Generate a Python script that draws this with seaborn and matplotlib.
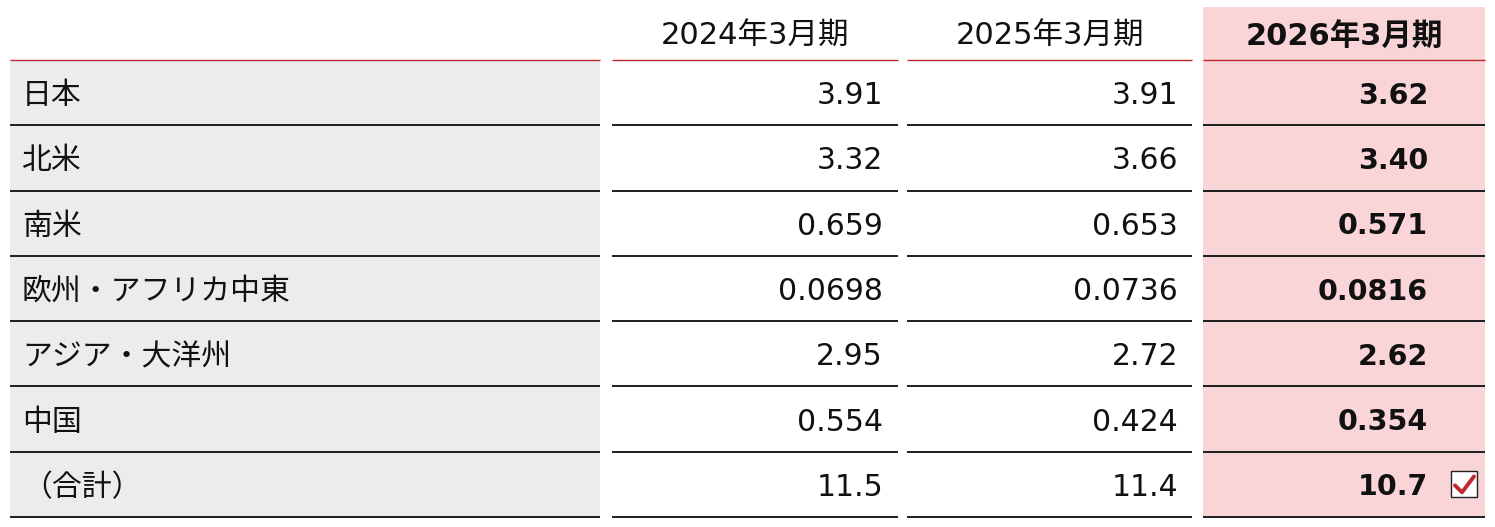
"""
Regional table: three fiscal years, last year highlighted.
"""

import matplotlib
matplotlib.use("Agg")
import matplotlib.pyplot as plt
import seaborn as sns
from matplotlib.patches import Rectangle

sns.set_theme(style="white")
plt.rcParams['font.family'] = ['Noto Sans CJK JP', 'DejaVu Sans']

# Data
regions = ['日本', '北米', '南米', '欧州・アフリカ中東', 'アジア・大洋州', '中国', '（合計）']
periods = ['2024年3月期', '2025年3月期', '2026年3月期']
fy2024 = [3.91, 3.32, 0.659, 0.0698, 2.95, 0.554, 11.5]
fy2025 = [3.91, 3.66, 0.653, 0.0736, 2.72, 0.424, 11.4]
fy2026 = [3.62, 3.40, 0.571, 0.0816, 2.62, 0.354, 10.7]

# Colours
GRAY_BG = '#EBECEE'
PINK_BG = '#F9D5D7'
RED = '#C3272E'
LINE = '#1E1E1E'
TEXT = '#111111'

W, H = 1495, 527
TOP = 60
ROW_H = (517 - TOP) / len(regions)
LABEL_COL = (10, 600)
VALUE_COLS = [(612, 898), (907, 1192), (1203, 1485)]
FS_JP = 21.5
FS_NUM = 21.5
NUM_FONT = ['DejaVu Sans', 'Noto Sans CJK JP']


def fmt(v):
    return f'{v:#.3g}'


def main():
    fig = plt.figure(figsize=(W / 100, H / 100), dpi=100)
    ax = fig.add_axes([0, 0, 1, 1])
    ax.set_xlim(0, W)
    ax.set_ylim(H, 0)
    ax.axis('off')

    n = len(regions)
    bottom = TOP + n * ROW_H

    # backgrounds
    ax.add_patch(Rectangle((LABEL_COL[0], TOP), LABEL_COL[1] - LABEL_COL[0], bottom - TOP,
                           color=GRAY_BG, lw=0, zorder=0))
    x0, x1 = VALUE_COLS[2]
    ax.add_patch(Rectangle((x0, 7), x1 - x0, bottom - 7, color=PINK_BG, lw=0, zorder=0))

    # header
    for (c0, c1), label, bold in zip(VALUE_COLS, periods, [False, False, True]):
        ax.text((c0 + c1) / 2, 36, label, ha='center', va='center', fontsize=22,
                family=NUM_FONT, fontweight='bold' if bold else 'normal', color=TEXT)

    # rule lines
    for c0, c1 in [LABEL_COL] + VALUE_COLS:
        ax.plot([c0, c1], [TOP, TOP], color=RED, lw=1.0, solid_capstyle='butt', zorder=2)
        for i in range(1, n + 1):
            y = TOP + i * ROW_H
            ax.plot([c0, c1], [y, y], color=LINE, lw=1.4, solid_capstyle='butt', zorder=2)

    # body
    series = [fy2024, fy2025, fy2026]
    right_pad = [15, 14, 57]
    for i, region in enumerate(regions):
        yc = TOP + (i + 0.5) * ROW_H + 3
        ax.text(22, yc, region, ha='left', va='center', fontsize=FS_JP, color=TEXT)
        for j, (vals, (c0, c1)) in enumerate(zip(series, VALUE_COLS)):
            bold = j == 2
            ax.text(c1 - right_pad[j], yc, fmt(vals[i]), ha='right', va='center',
                    fontsize=FS_NUM - 1 if bold else FS_NUM, family=NUM_FONT,
                    fontweight='bold' if bold else 'normal', color=TEXT)

    # check box next to the total
    yc = TOP + (n - 0.5) * ROW_H
    ax.add_patch(Rectangle((1451, yc - 13), 26, 26, facecolor='white', edgecolor='#222222',
                           lw=1.0, zorder=3))
    ax.plot([1455, 1462, 1474], [yc + 1, yc + 8, yc - 8], color=RED, lw=2.8,
            solid_capstyle='round', solid_joinstyle='round', zorder=4)

    fig.savefig('out.png', dpi=100)
    plt.close(fig)


if __name__ == "__main__":
    main()
